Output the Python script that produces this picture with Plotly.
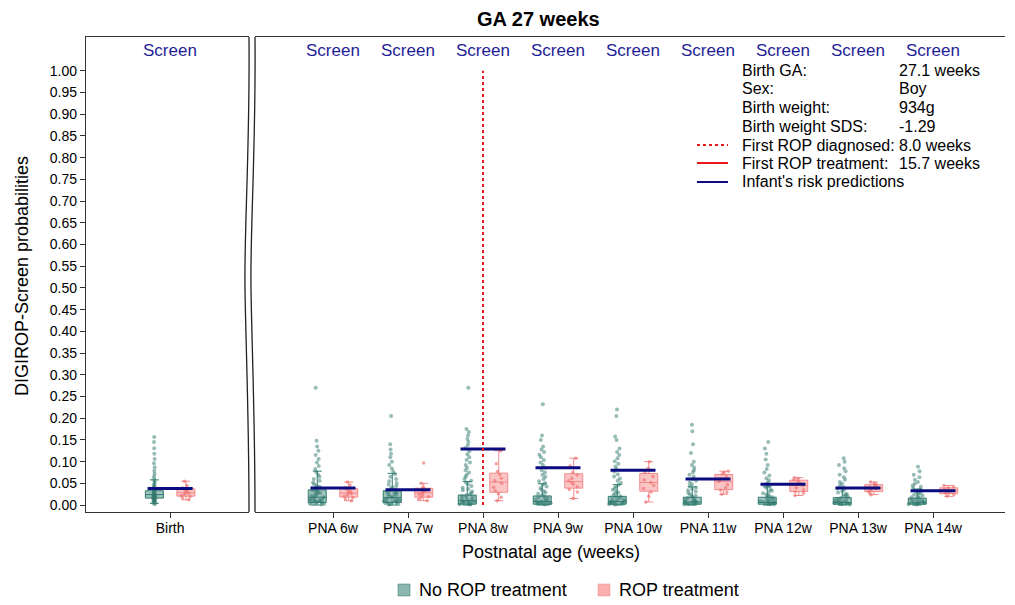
import plotly.graph_objects as go

# categories
birth_label = "Birth"
pna_labels = ["PNA 6w", "PNA 7w", "PNA 8w", "PNA 9w", "PNA 10w",
              "PNA 11w", "PNA 12w", "PNA 13w", "PNA 14w"]
diagnosed_at = "PNA 8w"

# infant's risk predictions (blue segments)
birth_pred = 0.038
pna_pred = [0.039, 0.035, 0.129, 0.086, 0.080, 0.060, 0.048, 0.039, 0.033]

# No ROP treatment: box summaries (birth first, then PNA 6w..14w)
no_q1 = [0.016, 0.006, 0.006, 0.002, 0.002, 0.002, 0.002, 0.002, 0.002, 0.002]
no_med = [0.024, 0.018, 0.017, 0.010, 0.008, 0.008, 0.007, 0.006, 0.006, 0.005]
no_q3 = [0.033, 0.035, 0.033, 0.023, 0.021, 0.020, 0.018, 0.018, 0.017, 0.016]
no_lo = [0.004, 0.000, 0.000, 0.000, 0.000, 0.000, 0.000, 0.000, 0.000, 0.000]
no_hi = [0.058, 0.078, 0.073, 0.054, 0.049, 0.047, 0.042, 0.042, 0.039, 0.037]

# No ROP treatment: individual infants
birth_no = [0.002, 0.004, 0.006, 0.008, 0.009, 0.010, 0.011, 0.012, 0.013, 0.014, 0.015, 0.016,
            0.017, 0.018, 0.019, 0.020, 0.021, 0.022, 0.023, 0.024, 0.025, 0.026, 0.027, 0.028,
            0.030, 0.032, 0.034, 0.036, 0.038, 0.041, 0.044, 0.047, 0.051, 0.055, 0.060, 0.066,
            0.072, 0.079, 0.087, 0.096, 0.106, 0.118, 0.131, 0.145, 0.157]
pna6_no = [0.001, 0.002, 0.003, 0.004, 0.005, 0.006, 0.007, 0.008, 0.009, 0.010, 0.011, 0.012,
           0.013, 0.014, 0.016, 0.018, 0.020, 0.022, 0.024, 0.026, 0.028, 0.030, 0.032, 0.034,
           0.036, 0.039, 0.042, 0.045, 0.048, 0.052, 0.056, 0.060, 0.065, 0.070, 0.076, 0.083,
           0.090, 0.098, 0.106, 0.115, 0.125, 0.135, 0.148, 0.270]
pna7_no = [0.001, 0.002, 0.003, 0.004, 0.005, 0.006, 0.007, 0.008, 0.009, 0.010, 0.011, 0.012,
           0.013, 0.015, 0.017, 0.019, 0.021, 0.023, 0.025, 0.027, 0.029, 0.031, 0.033, 0.035,
           0.038, 0.041, 0.044, 0.047, 0.051, 0.055, 0.060, 0.065, 0.071, 0.077, 0.084, 0.092,
           0.100, 0.110, 0.118, 0.128, 0.140, 0.205]
pna8_no = [0.001, 0.002, 0.003, 0.004, 0.005, 0.006, 0.007, 0.008, 0.009, 0.010, 0.012, 0.014,
           0.016, 0.018, 0.020, 0.022, 0.025, 0.028, 0.031, 0.034, 0.037, 0.040, 0.044, 0.048,
           0.052, 0.056, 0.060, 0.065, 0.070, 0.075, 0.080, 0.086, 0.092, 0.098, 0.104, 0.110,
           0.117, 0.124, 0.131, 0.138, 0.145, 0.152, 0.160, 0.168, 0.175, 0.270]
pna9_no = [0.001, 0.002, 0.003, 0.004, 0.005, 0.006, 0.007, 0.008, 0.009, 0.010, 0.012, 0.014,
           0.016, 0.018, 0.020, 0.023, 0.026, 0.029, 0.032, 0.035, 0.039, 0.043, 0.047, 0.051,
           0.055, 0.060, 0.065, 0.070, 0.075, 0.080, 0.086, 0.092, 0.098, 0.104, 0.110, 0.116,
           0.122, 0.128, 0.135, 0.150, 0.160, 0.232]
pna10_no = [0.001, 0.002, 0.003, 0.004, 0.005, 0.006, 0.007, 0.008, 0.009, 0.010, 0.012, 0.014,
            0.016, 0.018, 0.020, 0.023, 0.026, 0.029, 0.032, 0.035, 0.039, 0.043, 0.047, 0.051,
            0.056, 0.061, 0.066, 0.071, 0.077, 0.083, 0.089, 0.095, 0.101, 0.108, 0.115, 0.122,
            0.130, 0.150, 0.158, 0.205, 0.220]
pna11_no = [0.001, 0.002, 0.003, 0.004, 0.005, 0.006, 0.007, 0.008, 0.009, 0.010, 0.012, 0.014,
            0.016, 0.018, 0.020, 0.022, 0.025, 0.028, 0.031, 0.034, 0.037, 0.040, 0.044, 0.048,
            0.052, 0.056, 0.060, 0.065, 0.070, 0.075, 0.080, 0.086, 0.092, 0.100, 0.120, 0.140,
            0.170, 0.185]
pna12_no = [0.001, 0.002, 0.003, 0.004, 0.005, 0.006, 0.007, 0.008, 0.009, 0.010, 0.012, 0.014,
            0.016, 0.018, 0.020, 0.022, 0.024, 0.027, 0.030, 0.033, 0.036, 0.040, 0.044, 0.048,
            0.052, 0.057, 0.062, 0.068, 0.075, 0.083, 0.092, 0.105, 0.118, 0.130, 0.145]
pna13_no = [0.001, 0.002, 0.003, 0.004, 0.005, 0.006, 0.007, 0.008, 0.009, 0.010, 0.012, 0.014,
            0.016, 0.018, 0.020, 0.022, 0.024, 0.026, 0.029, 0.032, 0.035, 0.038, 0.041, 0.045,
            0.049, 0.053, 0.058, 0.064, 0.070, 0.078, 0.085, 0.092, 0.100, 0.108]
pna14_no = [0.001, 0.002, 0.003, 0.004, 0.005, 0.006, 0.007, 0.008, 0.009, 0.010, 0.012, 0.014,
            0.016, 0.018, 0.020, 0.022, 0.024, 0.026, 0.028, 0.030, 0.033, 0.036, 0.039, 0.042,
            0.045, 0.049, 0.053, 0.058, 0.064, 0.070, 0.078, 0.088]
pna_no = [pna6_no, pna7_no, pna8_no, pna9_no, pna10_no, pna11_no, pna12_no, pna13_no, pna14_no]

# ROP treatment: individual infants
birth_rop = [0.012, 0.016, 0.019, 0.022, 0.025, 0.027, 0.030, 0.033, 0.036, 0.039, 0.045, 0.055]
pna6_rop = [0.010, 0.014, 0.017, 0.020, 0.023, 0.026, 0.029, 0.032, 0.036, 0.040, 0.046, 0.053]
pna7_rop = [0.010, 0.013, 0.016, 0.019, 0.022, 0.025, 0.028, 0.031, 0.034, 0.038, 0.041, 0.050, 0.097]
pna8_rop = [0.010, 0.018, 0.026, 0.033, 0.041, 0.050, 0.056, 0.062, 0.070, 0.077, 0.095, 0.125]
pna9_rop = [0.015, 0.030, 0.036, 0.042, 0.048, 0.052, 0.056, 0.062, 0.069, 0.075, 0.090, 0.108]
pna10_rop = [0.007, 0.020, 0.030, 0.038, 0.045, 0.052, 0.058, 0.066, 0.075, 0.085, 0.100]
pna11_rop = [0.025, 0.030, 0.034, 0.040, 0.047, 0.054, 0.060, 0.066, 0.072, 0.075, 0.078]
pna12_rop = [0.022, 0.027, 0.030, 0.035, 0.040, 0.045, 0.050, 0.055, 0.058, 0.061, 0.063]
pna13_rop = [0.024, 0.028, 0.031, 0.035, 0.038, 0.041, 0.044, 0.047, 0.050, 0.053]
pna14_rop = [0.020, 0.024, 0.027, 0.030, 0.033, 0.036, 0.039, 0.042, 0.045]
pna_rop = [pna6_rop, pna7_rop, pna8_rop, pna9_rop, pna10_rop, pna11_rop, pna12_rop, pna13_rop, pna14_rop]

info_labels = ["Birth GA:", "Sex:", "Birth weight:", "Birth weight SDS:",
               "First ROP diagnosed:", "First ROP treatment:", "Infant's risk predictions"]
info_values = ["27.1 weeks", "Boy", "934g", "-1.29", "8.0 weeks", "15.7 weeks", ""]
group_names = ["No ROP treatment", "ROP treatment"]

FONT = "Liberation Sans, Arial, sans-serif"
TEAL = "#2f7a6e"
TEAL_FILL = "rgba(47,122,110,0.45)"
TEAL_PT = "rgba(47,122,110,0.5)"
PINK = "#f28a8a"
PINK_FILL = "rgba(250,150,150,0.55)"
PINK_PT = "rgba(240,110,110,0.65)"
NAVY = "#0b0b80"
AXC = "#333333"

# page body adds an 8px offset; plot area in screen px is 86..1005 x 37..512
OFF = 8
W, H = 1015 - OFF, 605 - OFF
X0, X1, Y0, Y1 = 86, 1005, 37, 512
PW, PH = X1 - X0, Y1 - Y0
L, T = X0 - OFF, Y0 - OFF
R, B = W - L - PW, H - T - PH


def px(xp):
    return (xp - X0) / PW


def py(yp):
    return (Y1 - yp) / PH


fig = go.Figure()
pos = list(range(len(pna_labels)))

# ---- Birth panel ----
fig.add_trace(go.Box(
    x=[0], q1=no_q1[:1], median=no_med[:1], q3=no_q3[:1],
    lowerfence=no_lo[:1], upperfence=no_hi[:1], orientation="v",
    name=group_names[0], offsetgroup="no",
    fillcolor=TEAL_FILL, line=dict(color=TEAL, width=1), xaxis="x", yaxis="y"))
fig.add_trace(go.Box(
    x=[0] * len(birth_no), y=birth_no, boxpoints="all", jitter=0.15, pointpos=0,
    fillcolor="rgba(0,0,0,0)", line=dict(color="rgba(0,0,0,0)", width=0),
    marker=dict(color=TEAL_PT, size=4), offsetgroup="no",
    xaxis="x", yaxis="y"))
fig.add_trace(go.Box(
    x=[0] * len(birth_rop), y=birth_rop, boxpoints="all", jitter=0.6, pointpos=0,
    name=group_names[1], offsetgroup="rop",
    fillcolor=PINK_FILL, line=dict(color=PINK, width=1),
    marker=dict(color=PINK_PT, size=3.5), xaxis="x", yaxis="y"))

# ---- PNA panel ----
fig.add_trace(go.Box(
    x=pos, q1=no_q1[1:], median=no_med[1:], q3=no_q3[1:],
    lowerfence=no_lo[1:], upperfence=no_hi[1:], orientation="v",
    name=group_names[0], offsetgroup="no",
    fillcolor=TEAL_FILL, line=dict(color=TEAL, width=1), xaxis="x2", yaxis="y2"))
xs, ys = [], []
for i, vals in enumerate(pna_no):
    xs += [i] * len(vals)
    ys += vals
fig.add_trace(go.Box(
    x=xs, y=ys, boxpoints="all", jitter=1.0, pointpos=0,
    fillcolor="rgba(0,0,0,0)", line=dict(color="rgba(0,0,0,0)", width=0),
    marker=dict(color=TEAL_PT, size=4), offsetgroup="no",
    xaxis="x2", yaxis="y2"))
xs, ys = [], []
for i, vals in enumerate(pna_rop):
    xs += [i] * len(vals)
    ys += vals
fig.add_trace(go.Box(
    x=xs, y=ys, boxpoints="all", jitter=0.6, pointpos=0,
    name=group_names[1], offsetgroup="rop",
    fillcolor=PINK_FILL, line=dict(color=PINK, width=1),
    marker=dict(color=PINK_PT, size=3.5), xaxis="x2", yaxis="y2"))

# risk prediction segments
half = 0.3
fig.add_trace(go.Scatter(x=[-half, half], y=[birth_pred, birth_pred], mode="lines",
                         line=dict(color=NAVY, width=3), xaxis="x", yaxis="y"))
lx, ly = [], []
for i, v in enumerate(pna_pred):
    lx += [i - half, i + half, None]
    ly += [v, v, None]
fig.add_trace(go.Scatter(x=lx, y=ly, mode="lines", line=dict(color=NAVY, width=3),
                         xaxis="x2", yaxis="y2"))

# first ROP diagnosed
d = pna_labels.index(diagnosed_at)
fig.add_trace(go.Scatter(x=[d, d], y=[0, 1], mode="lines",
                         line=dict(color="#e8191c", width=2, dash="dot"),
                         xaxis="x2", yaxis="y2"))

# "Screen" labels
scr_font = dict(size=17, color="#1e1e96")
ann = [dict(x=0, y=1.046, xref="x", yref="y", text="Screen", showarrow=False,
            xanchor="center", yanchor="middle", font=scr_font)]
for i in pos:
    ann.append(dict(x=i, y=1.046, xref="x2", yref="y2", text="Screen", showarrow=False,
                    xanchor="center", yanchor="middle", font=scr_font))

# info block
info_y = [70, 89, 107, 126, 145, 163, 182]
for lab, val, yp in zip(info_labels, info_values, info_y):
    ann.append(dict(x=px(740), y=py(yp), xref="paper", yref="paper", text=lab,
                    showarrow=False, xanchor="left", yanchor="middle",
                    font=dict(size=16, color="black")))
    if val:
        ann.append(dict(x=px(897), y=py(yp), xref="paper", yref="paper", text=val,
                        showarrow=False, xanchor="left", yanchor="middle",
                        font=dict(size=16, color="black")))

ann.append(dict(x=px(551), y=py(552), xref="paper", yref="paper",
                text="Postnatal age (weeks)", showarrow=False,
                xanchor="center", yanchor="middle", font=dict(size=18, color="black")))
ann.append(dict(x=px(22), y=py(276), xref="paper", yref="paper",
                text="DIGIROP-Screen probabilities", showarrow=False, textangle=-90,
                xanchor="center", yanchor="middle", font=dict(size=18, color="black")))
# title
ann.append(dict(x=px(538), y=py(19), xref="paper", yref="paper",
                text="<b>GA 27 weeks</b>", showarrow=False,
                xanchor="center", yanchor="middle", font=dict(size=20, color="black")))

shapes = []
for yp, col, dash in [(145, "#e8191c", "dot"), (163, "#e8191c", "solid"), (182, NAVY, "solid")]:
    shapes.append(dict(type="line", xref="paper", yref="paper", x0=px(697), x1=px(728),
                       y0=py(yp), y1=py(yp), line=dict(color=col, width=2, dash=dash)))

# bottom legend (squares + labels)
for name, fill, edge, sx in [(group_names[0], "rgba(47,122,110,0.55)", TEAL, 398),
                             (group_names[1], "rgba(250,150,150,0.75)", PINK, 598)]:
    shapes.append(dict(type="rect", xref="paper", yref="paper",
                       x0=px(sx), x1=px(sx + 12), y0=py(596), y1=py(584),
                       fillcolor=fill, line=dict(color=edge, width=0.5)))
    ann.append(dict(x=px(sx + 19), y=py(590), xref="paper", yref="paper", text=name,
                    showarrow=False, xanchor="left", yanchor="middle",
                    font=dict(size=18, color="black")))


def wave(x0):
    p = [(x0, Y0), (x0 + 1, 150), (x0 - 5, 230), (x0 - 4, 290),
         (x0 - 3, 350), (x0, 420), (x0, Y1)]
    q = [(px(a), py(b)) for a, b in p]
    s = "M %f,%f C %f,%f %f,%f %f,%f C %f,%f %f,%f %f,%f" % tuple(v for pt in q for v in pt)
    return dict(type="path", xref="paper", yref="paper", path=s,
                line=dict(color="#222222", width=1.3))


shapes.append(wave(249))
shapes.append(wave(255))

yt = [round(0.05 * k, 2) for k in range(21)]
axis_common = dict(showgrid=False, zeroline=False, showline=True, linecolor=AXC,
                   linewidth=1.3, ticks="outside", ticklen=5, tickcolor=AXC,
                   automargin=False, tickfont=dict(size=14, color="black"))

fig.update_layout(
    width=W, height=H,
    margin=dict(l=L, r=R, t=T, b=B, pad=0),
    paper_bgcolor="white", plot_bgcolor="white",
    font=dict(family=FONT, color="black"),
    showlegend=False,
    boxmode="group", boxgap=0.16, boxgroupgap=0.43,
    xaxis=dict(domain=[0, px(249)], range=[-1.12, 1.05], tickvals=[0],
               ticktext=[birth_label], mirror=True, anchor="y",
               ticklabelstandoff=-2, **axis_common),
    xaxis2=dict(domain=[px(255), 1], range=[-1.04, 8.96], tickvals=pos,
                ticktext=pna_labels, mirror=True, anchor="y2",
                ticklabelstandoff=-2, **axis_common),
    yaxis=dict(domain=[0, 1], range=[-0.016, 1.078], tickvals=yt, tickformat=".2f",
               anchor="x", **axis_common),
    yaxis2=dict(domain=[0, 1], range=[-0.016, 1.078], anchor="x2", showgrid=False,
                zeroline=False, showline=False, showticklabels=False, ticks="",
                automargin=False),
    annotations=ann, shapes=shapes,
)

fig.write_html("out.html")
